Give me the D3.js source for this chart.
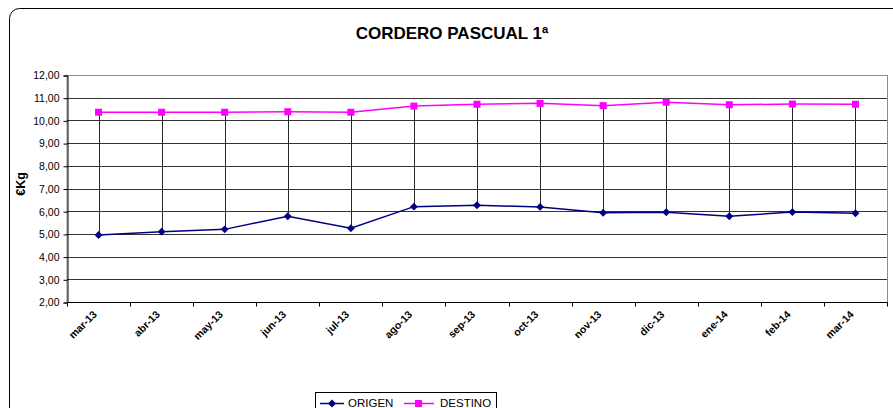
<!DOCTYPE html>
<html>
<head>
<meta charset="utf-8">
<script src="https://cdn.jsdelivr.net/npm/d3@7"></script>
<style>
  html, body { margin: 0; padding: 0; background: #fff; }
  svg { display: block; font-family: "Liberation Sans", Arial, sans-serif; }
</style>
</head>
<body>
<svg id="chart" width="893" height="408"></svg>
<script>
// Monthly prices, €/Kg
const months = ["mar-13", "abr-13", "may-13", "jun-13", "jul-13", "ago-13", "sep-13",
                "oct-13", "nov-13", "dic-13", "ene-14", "feb-14", "mar-14"];
const origen  = [4.95, 5.10, 5.20, 5.78, 5.25, 6.20, 6.26, 6.19, 5.93, 5.95, 5.78, 5.96, 5.91];
const destino = [10.36, 10.36, 10.36, 10.38, 10.36, 10.63, 10.71, 10.75, 10.65, 10.80, 10.69, 10.72, 10.71];
const yTicks  = [2, 3, 4, 5, 6, 7, 8, 9, 10, 11, 12];

const svg = d3.select("#chart");
const plot = { left: 67, right: 887, top: 75, bottom: 302 };

const x = d3.scaleBand().domain(months).range([plot.left, plot.right]).padding(0);
const y = d3.scaleLinear().domain([2, 12]).range([plot.bottom, plot.top]);
const cx = m => x(m) + x.bandwidth() / 2;
const fmt = v => d3.format(".2f")(v).replace(".", ",");

// outer chart frame
svg.append("rect")
  .attr("x", 9.5).attr("y", 8.5).attr("width", 900).attr("height", 420)
  .attr("rx", 10).attr("fill", "#fff").attr("stroke", "#000").attr("stroke-width", 1);

// title
svg.append("text")
  .attr("x", 452).attr("y", 39).attr("text-anchor", "middle")
  .attr("font-size", 17).attr("font-weight", "bold").attr("fill", "#000")
  .text("CORDERO PASCUAL 1ª");

// plot area border
svg.append("rect")
  .attr("x", plot.left).attr("y", plot.top + 0.5)
  .attr("width", plot.right - plot.left + 0.5).attr("height", plot.bottom - plot.top)
  .attr("fill", "#fff").attr("stroke", "#8c8c8c");

// horizontal gridlines
svg.append("g").selectAll("line").data(yTicks.slice(1)).join("line")
  .attr("x1", plot.left).attr("x2", plot.right)
  .attr("y1", d => Math.round(y(d)) + 0.5).attr("y2", d => Math.round(y(d)) + 0.5)
  .attr("stroke", d => d === 12 ? "#8c8c8c" : "#333").attr("stroke-width", 1);

// y axis
const yAxis = d3.axisLeft(y).tickValues(yTicks).tickFormat(fmt).tickSize(4).tickPadding(4);
const gy = svg.append("g").attr("transform", `translate(${plot.left + 0.5},0.5)`).call(yAxis);
gy.select(".domain").attr("stroke", "#000");
gy.selectAll(".tick line").attr("stroke", "#000");
gy.selectAll(".tick text").attr("font-size", 10.5).attr("fill", "#000")
  .attr("font-family", "Liberation Sans, Arial, sans-serif");

// x axis: ticks between categories
const xAxis = d3.axisBottom(x).tickSize(0).tickFormat("");
const gx = svg.append("g").attr("transform", `translate(0,${plot.bottom + 0.5})`).call(xAxis);
gx.select(".domain").remove();
gx.append("line").attr("x1", plot.left).attr("x2", plot.right + 0.5).attr("stroke", "#000");
const bounds = months.map(m => x(m)).concat([plot.right]);
gx.selectAll("line.sep").data(bounds).join("line").attr("class", "sep")
  .attr("x1", d => Math.round(d) + 0.5).attr("x2", d => Math.round(d) + 0.5)
  .attr("y1", 0).attr("y2", 4).attr("stroke", "#000");

// rotated category labels
svg.append("g").selectAll("text").data(months).join("text")
  .attr("transform", d => `translate(${cx(d) - 1},${plot.bottom + 13}) rotate(-45)`)
  .attr("text-anchor", "end").attr("font-size", 10.5).attr("font-weight", "bold").attr("fill", "#000")
  .text(d => d);

// y axis title
svg.append("text")
  .attr("transform", `translate(25,184) rotate(-90)`)
  .attr("text-anchor", "middle").attr("font-size", 12.5).attr("font-weight", "bold").attr("fill", "#000")
  .text("€Kg");

// high-low connectors
svg.append("g").selectAll("line").data(months).join("line")
  .attr("x1", d => Math.round(cx(d)) + 0.5).attr("x2", d => Math.round(cx(d)) + 0.5)
  .attr("y1", (d, i) => y(origen[i])).attr("y2", (d, i) => y(destino[i]))
  .attr("stroke", "#2a2a2a").attr("stroke-width", 1);

const line = d3.line().x((d, i) => cx(months[i])).y(d => y(d));

// DESTINO series
svg.append("path").datum(destino).attr("d", line)
  .attr("fill", "none").attr("stroke", "#ff00ff").attr("stroke-width", 1.5);
svg.append("g").selectAll("rect").data(destino).join("rect")
  .attr("x", (d, i) => cx(months[i]) - 3.5).attr("y", d => y(d) - 3.5)
  .attr("width", 7).attr("height", 7).attr("fill", "#ff00ff");

// ORIGEN series
const diamond = d3.symbol().type(d3.symbolDiamond2).size(40);
svg.append("path").datum(origen).attr("d", line)
  .attr("fill", "none").attr("stroke", "#000080").attr("stroke-width", 1.5);
svg.append("g").selectAll("path").data(origen).join("path")
  .attr("transform", (d, i) => `translate(${cx(months[i])},${y(d)})`)
  .attr("d", diamond).attr("fill", "#000080");

// legend
const lg = svg.append("g");
lg.append("rect").attr("x", 315.5).attr("y", 392.5).attr("width", 181).attr("height", 30)
  .attr("fill", "#fff").attr("stroke", "#000");
lg.append("line").attr("x1", 320).attr("x2", 344).attr("y1", 403.5).attr("y2", 403.5)
  .attr("stroke", "#000080").attr("stroke-width", 1.5);
lg.append("path").attr("transform", "translate(332,403.5)").attr("d", diamond).attr("fill", "#000080");
lg.append("text").attr("x", 348).attr("y", 407).attr("font-size", 11.5).attr("fill", "#000").text("ORIGEN");
lg.append("line").attr("x1", 404).attr("x2", 434).attr("y1", 403.5).attr("y2", 403.5)
  .attr("stroke", "#ff00ff").attr("stroke-width", 1.5);
lg.append("rect").attr("x", 415).attr("y", 400).attr("width", 7).attr("height", 7).attr("fill", "#ff00ff");
lg.append("text").attr("x", 440).attr("y", 407).attr("font-size", 11.5).attr("fill", "#000").text("DESTINO");
</script>
</body>
</html>
